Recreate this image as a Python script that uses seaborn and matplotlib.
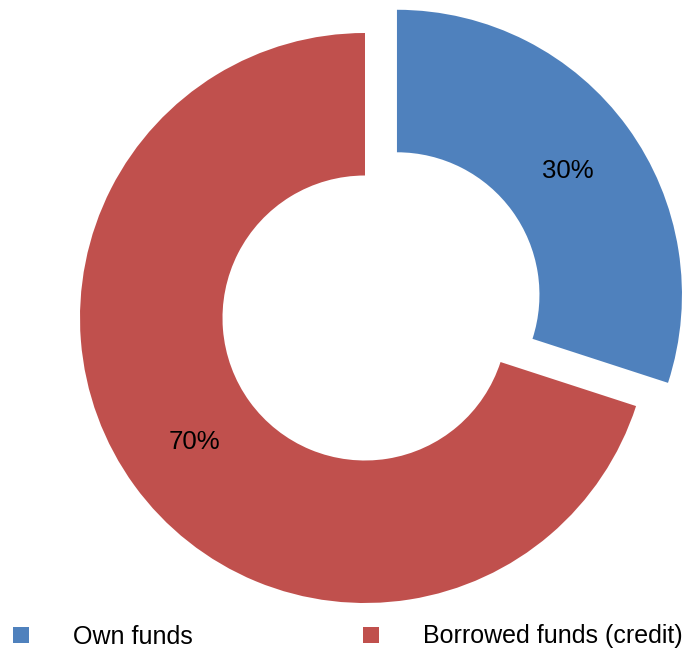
import matplotlib
matplotlib.use("Agg")
import matplotlib.pyplot as plt
import seaborn as sns
from matplotlib.patches import Patch

categories = ["Own funds", "Borrowed funds (credit)"]
shares = [30, 70]
colors = ["#4F81BD", "#C0504D"]

sns.set_theme(style="white")
plt.rcParams["font.family"] = ["Liberation Sans", "DejaVu Sans"]

W, H = 686, 653
fig = plt.figure(figsize=(W / 100, H / 100), dpi=100)
ax = fig.add_axes([0, 0, 1, 1])
ax.axis("off")

R = 285
wedges, texts, autotexts = ax.pie(
    shares,
    colors=colors,
    startangle=90,
    counterclock=False,
    radius=R,
    center=(365, H - 318),
    explode=[39.5, 0],
    autopct="%d%%",
    pctdistance=0.74,
    wedgeprops=dict(width=0.5 * R, linewidth=0),
    textprops=dict(fontsize=18.5, color="black"),
    frame=False,
)
ax.set_xlim(0, W)
ax.set_ylim(0, H)
ax.set_aspect("equal")

handles = [Patch(facecolor=c, edgecolor="none") for c in colors]
fig.legend(
    handles, categories,
    loc="center left", bbox_to_anchor=(13 / W, 1 - 636.5 / H),
    ncol=2, frameon=False, fontsize=18, labelcolor="black",
    handlelength=0.63, handleheight=0.63,
    handletextpad=1.78, columnspacing=6.8,
    borderaxespad=0, borderpad=0,
)

fig.savefig("out.png", dpi=100)
